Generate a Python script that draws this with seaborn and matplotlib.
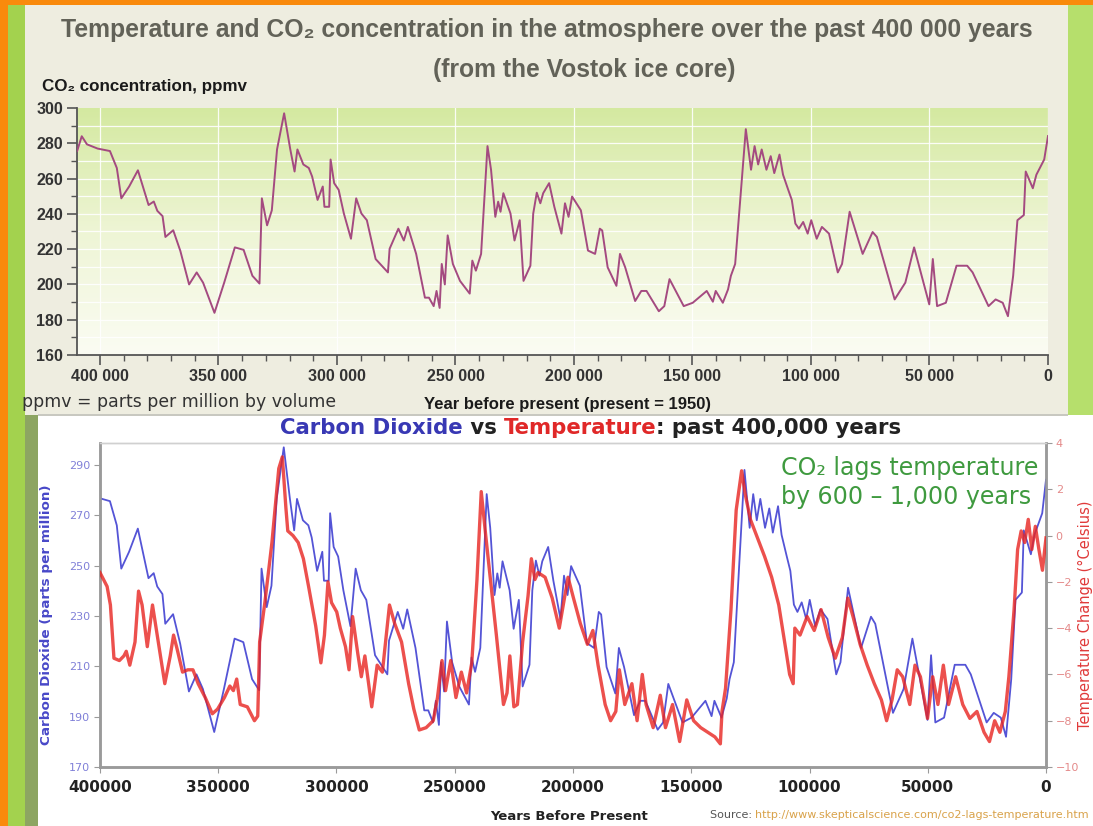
import numpy as np
import pandas as pd
import matplotlib
matplotlib.use("Agg")
import matplotlib.pyplot as plt
import seaborn as sns
from matplotlib.patches import Rectangle
from matplotlib.colors import LinearSegmentedColormap
from matplotlib.ticker import MultipleLocator, FixedLocator

# ---------------- data ----------------
co2_years = [409650, 407700, 405500, 401000, 395800, 392900, 391000, 387700, 384000, 379500,
             377300, 375800, 373600, 372400, 369100, 366100, 362400, 359200, 356500, 351700,
             347600, 343100, 339400, 335700, 332700, 331700, 329500, 327500, 325300, 322300,
             319700, 317900, 316700, 314200, 311900, 310500, 308200, 306000, 305300, 303300,
             302700, 301200, 299300, 297100, 294100, 291900, 289700, 287400, 283700, 278500,
             277800, 274100, 271800, 270100, 266600, 262900, 261200, 259200, 258000, 256700,
             255800, 254500, 253300, 251100, 248100, 244000, 242900, 241400, 239200, 236500,
             235000, 233200, 232000, 231000, 229800, 226800, 225100, 222900, 221300, 218400,
             217200, 215700, 214200, 213000, 210500, 208300, 205300, 203800, 202300, 200800,
             197100, 194100, 191100, 189100, 188100, 185800, 182100, 180600, 178400, 174200,
             171600, 169400, 164200, 161900, 159700, 153700, 149900, 144000, 141400, 140200,
             137200, 135000, 133800, 132000, 127500, 125300, 123800, 122300, 120800, 118800,
             117000, 115500, 113300, 111800, 109600, 108100, 106600, 105100, 103300, 101400,
             99900, 97600, 95400, 92400, 88700, 86900, 83700, 78200, 74000, 72200,
             64700, 60200, 56500, 50100, 48600, 46800, 43100, 38600, 34100, 31800,
             25100, 22100, 19100, 16900, 14700, 12900, 10200, 9400, 6400, 4900,
             1600, 0]
co2_ppmv = [275.6, 284.0, 279.4, 277.0, 275.6, 266.0, 248.8, 255.5, 264.7, 245.0,
            247.0, 241.7, 238.7, 226.9, 230.7, 219.0, 200.0, 206.8, 201.0, 183.9,
            201.0, 221.0, 219.6, 204.9, 200.5, 248.8, 233.5, 242.0, 276.5, 297.0,
            276.5, 264.0, 276.5, 268.0, 266.0, 261.2, 247.9, 255.5, 244.0, 244.0,
            270.8, 257.4, 253.6, 240.2, 225.9, 248.8, 240.2, 236.4, 214.4, 206.8,
            220.2, 231.6, 224.9, 232.6, 217.3, 192.5, 192.5, 187.7, 196.3, 186.7,
            211.6, 200.0, 227.8, 211.6, 202.0, 194.8, 213.5, 207.8, 217.3, 278.4,
            265.0, 238.3, 246.9, 241.2, 251.7, 240.2, 224.9, 236.4, 202.0, 210.6,
            240.2, 252.0, 246.0, 251.7, 257.4, 244.0, 228.8, 246.0, 238.3, 249.8,
            242.0, 219.2, 217.3, 231.6, 230.6, 209.7, 199.2, 217.3, 209.7, 190.6,
            196.3, 196.3, 184.8, 187.7, 203.0, 187.7, 189.6, 196.3, 190.2, 196.3,
            189.6, 197.2, 204.9, 211.6, 288.0, 265.0, 278.4, 268.0, 276.5, 265.0,
            272.7, 263.1, 273.6, 262.2, 253.6, 247.9, 234.5, 231.6, 235.4, 228.8,
            236.4, 225.9, 232.6, 228.8, 206.8, 211.6, 241.2, 217.3, 229.7, 226.9,
            191.5, 201.0, 221.0, 188.7, 214.4, 187.7, 189.6, 210.6, 210.6, 206.8,
            187.7, 191.5, 189.6, 182.0, 204.9, 236.4, 239.3, 264.0, 254.5, 262.2,
            270.8, 284.1]

temp_years = [400000, 397000, 395600, 394100, 391800, 389900, 388900, 387400, 385200, 383700,
              382200, 380000, 377800, 375500, 372600, 370300, 368900, 367400, 365100, 362900,
              360700, 358500, 355500, 352500, 350300, 347400, 345100, 343600, 342200, 340700,
              337700, 334700, 333300, 332500, 330300, 327300, 324400, 322900, 321400, 320600,
              318400, 316200, 314000, 311800, 308800, 306600, 305100, 303600, 302100, 299900,
              298400, 296200, 294700, 293200, 291000, 289500, 288000, 285100, 282800, 280600,
              277600, 275400, 272500, 269500, 267300, 265000, 262100, 259100, 257300, 255400,
              253900, 251700, 249500, 247200, 245000, 242800, 240600, 238800, 236900, 234600,
              232400, 230900, 229400, 227900, 226700, 225000, 223500, 221300, 219000, 217600,
              216100, 214800, 211800, 208800, 205800, 202100, 199800, 196900, 193900, 191600,
              189400, 186400, 184100, 181900, 180400, 178100, 175100, 172900, 170700, 169100,
              166100, 163100, 160900, 157900, 154900, 151900, 149000, 146000, 143000, 140000,
              137700, 137000, 135500, 133200, 131000, 128700, 127200, 125000, 122000, 119000,
              116000, 113000, 109900, 108400, 106900, 106200, 104000, 101000, 98000, 95100,
              92100, 89100, 86100, 83800, 81600, 78600, 75600, 72600, 69600, 67400,
              65100, 62900, 60600, 57600, 55400, 53100, 50100, 47900, 45700, 43400,
              41200, 38200, 35200, 32200, 29200, 26200, 23900, 21700, 19500, 17200,
              15700, 13500, 12000, 10500, 9000, 7500, 6000, 4500, 3000, 1500, 0]
temp_change = [-1.6, -2.2, -3.0, -5.3, -5.4, -5.2, -5.0, -5.6, -4.6, -2.4,
               -3.0, -4.8, -3.0, -4.5, -6.4, -5.2, -4.3, -4.9, -5.9, -5.8,
               -5.8, -6.4, -7.0, -7.7, -7.5, -7.0, -6.5, -6.7, -6.2, -7.3,
               -7.4, -8.0, -7.8, -4.6, -2.9, -0.3, 2.9, 3.4, 1.2, 0.2,
               0.0, -0.3, -1.0, -2.2, -3.9, -5.5, -4.3, -2.0, -2.9, -3.3,
               -4.0, -4.8, -5.8, -3.5, -5.1, -6.1, -5.2, -7.4, -5.6, -5.9,
               -3.0, -3.8, -4.6, -6.4, -7.5, -8.4, -8.3, -8.0, -7.0, -5.4,
               -6.7, -5.4, -7.0, -5.9, -6.8, -5.5, -1.9, 1.9, 0.0, -2.2,
               -4.3, -5.8, -7.3, -6.8, -5.2, -7.4, -7.3, -4.6, -2.6, -1.0,
               -1.9, -1.6, -1.8, -2.7, -4.0, -1.8, -2.7, -3.8, -4.7, -4.1,
               -5.6, -7.3, -8.0, -7.6, -5.8, -7.3, -6.4, -8.0, -6.0, -7.3,
               -8.3, -6.9, -8.3, -7.3, -8.9, -7.1, -8.0, -8.3, -8.5, -8.7,
               -9.0, -7.6, -6.6, -3.2, 1.1, 2.8, 1.8, 0.7, -0.1, -0.9,
               -1.8, -3.0, -5.0, -6.0, -6.4, -4.0, -4.3, -3.5, -4.1, -3.2,
               -4.4, -5.3, -4.4, -2.7, -3.5, -4.7, -5.6, -6.4, -7.1, -8.0,
               -7.1, -5.8, -6.1, -7.3, -5.6, -6.1, -7.9, -6.1, -7.3, -5.6,
               -7.3, -6.1, -7.3, -7.9, -7.6, -8.5, -8.9, -8.0, -8.5, -7.6,
               -6.1, -3.2, -0.6, 0.2, -0.3, 0.7, -0.6, 0.4, -0.6, -1.5, -0.1]

top_xticks = [400000, 350000, 300000, 250000, 200000, 150000, 100000, 50000, 0]
top_xticklabels = ["400 000", "350 000", "300 000", "250 000", "200 000",
                   "150 000", "100 000", "50 000", "0"]
top_yticks = [160, 180, 200, 220, 240, 260, 280, 300]
bot_xticks = [400000, 350000, 300000, 250000, 200000, 150000, 100000, 50000, 0]
bot_xticklabels = ["400000", "350000", "300000", "250000", "200000",
                   "150000", "100000", "50000", "0"]
bot_co2_ticks = [170, 190, 210, 230, 250, 270, 290]
bot_temp_ticks = [-10, -8, -6, -4, -2, 0, 2, 4]

co2_df = pd.DataFrame({"year": co2_years, "co2": co2_ppmv})
temp_df = pd.DataFrame({"year": temp_years, "temp": temp_change})

# ---------------- figure & background ----------------
W, H = 1093, 826
fig = plt.figure(figsize=(W / 100, H / 100), dpi=100, facecolor="#f98a0c")
renderer = fig.canvas.get_renderer()

NARROW = ["Liberation Sans", "DejaVu Sans"]
WIDE = ["DejaVu Sans"]


def rect(x0, y0, x1, y1, color, z=-5):
    fig.add_artist(Rectangle((x0 / W, 1 - y1 / H), (x1 - x0) / W, (y1 - y0) / H,
                             transform=fig.transFigure, facecolor=color,
                             edgecolor="none", zorder=z))


def fx(x):
    return x / W


def fy(y):
    return 1 - y / H


def fit(t, target_px):
    w = t.get_window_extent(renderer=renderer).width
    t.set_fontsize(t.get_fontsize() * target_px / w)
    return t


rect(8, 5, 25, H, "#a3d24e")
rect(1066, 5, W, 416, "#b6df6c")
rect(25, 5, 1068, 415, "#eeede0")
rect(25, 415, 38, H, "#8da562")
rect(38, 415, W, H, "#ffffff")
rect(38, 414, 1068, 415.5, "#c8c8c0", z=-4)

# ---------------- top chart ----------------
ax1 = fig.add_axes([fx(77), fy(355), (1048 - 77) / W, (355 - 108) / H])
ax1.set_facecolor("none")
XL = 409700
cmap = LinearSegmentedColormap.from_list("g", ["#fbfcf3", "#eef5d5", "#d4e9a0"])
grad = np.linspace(0, 1, 256).reshape(-1, 1)
ax1.imshow(grad, extent=[XL, 0, 160, 300], aspect="auto", cmap=cmap,
           origin="lower", zorder=0)
for yv in range(170, 300, 10):
    ax1.axhline(yv, color="white", lw=0.9, zorder=1, alpha=0.9)
for xv in top_xticks:
    ax1.axvline(xv, color="white", lw=0.9, zorder=1, alpha=0.9)

sns.lineplot(data=co2_df, x="year", y="co2", ax=ax1, color="#a44a80", lw=1.4,
             estimator=None, zorder=3)
ax1.set_xlim(XL, 0)
ax1.set_ylim(160, 300)
ax1.set_xlabel("")
ax1.set_ylabel("")
for s in ["top", "right"]:
    ax1.spines[s].set_visible(False)
for s in ["left", "bottom"]:
    ax1.spines[s].set_color("#555555")
    ax1.spines[s].set_linewidth(1.3)
ax1.xaxis.set_major_locator(FixedLocator(top_xticks))
ax1.set_xticklabels(top_xticklabels)
ax1.xaxis.set_minor_locator(MultipleLocator(10000))
ax1.yaxis.set_major_locator(FixedLocator(top_yticks))
ax1.yaxis.set_minor_locator(MultipleLocator(10))
ax1.tick_params(which="major", length=7, width=1.2, color="#555555",
                labelsize=11.5, labelcolor="#333333", pad=3)
ax1.tick_params(which="minor", length=4, width=1.0, color="#555555")
for lab in ax1.get_xticklabels() + ax1.get_yticklabels():
    lab.set_family(NARROW)
    lab.set_fontweight("bold")

t = fig.text(fx(547), fy(30), "Temperature and CO\u2082 concentration in the atmosphere over the past 400 000 years",
             ha="center", va="center", fontsize=16, fontweight="bold", color="#626258", family=NARROW)
fit(t, 970)
t = fig.text(fx(584), fy(70), "(from the Vostok ice core)",
             ha="center", va="center", fontsize=16, fontweight="bold", color="#626258", family=NARROW)
fit(t, 302)
t = fig.text(fx(42), fy(87), "CO\u2082 concentration, ppmv", ha="left", va="center",
             fontsize=11, fontweight="bold", color="#1a1a1a", family=NARROW)
fit(t, 206)
t = fig.text(fx(22), fy(402), "ppmv = parts per million by volume", ha="left", va="center",
             fontsize=12, color="#333333", family=WIDE)
fit(t, 311)
t = fig.text(fx(568), fy(404), "Year before present (present = 1950)", ha="center", va="center",
             fontsize=12, fontweight="bold", color="#1a1a1a", family=NARROW)
fit(t, 287)

# ---------------- bottom chart ----------------
ax2 = fig.add_axes([fx(100), fy(767), (1046 - 100) / W, (767 - 443) / H])
ax2.set_facecolor("white")
sns.lineplot(data=co2_df, x="year", y="co2", ax=ax2, color="#5454d6", lw=1.3,
             estimator=None, zorder=3)
ax2.set_xlim(400000, 0)
ax2.set_ylim(170, 298.7)
ax2.set_xlabel("")
ax2.set_ylabel("")
ax3 = ax2.twinx()
sns.lineplot(data=temp_df, x="year", y="temp", ax=ax3, color="#e82420", lw=2.4,
             alpha=0.8, estimator=None, zorder=3)
ax3.set_ylim(-10, 4)
ax3.set_xlim(400000, 0)
ax3.set_ylabel("")
ax3.set_xlabel("")

for a in (ax2, ax3):
    for s in ["left", "bottom", "right"]:
        a.spines[s].set_color("#9a9a9a")
        a.spines[s].set_linewidth(1.8)
    a.spines["top"].set_color("#d0d0d0")
    a.spines["top"].set_linewidth(1.0)

ax2.xaxis.set_major_locator(FixedLocator(bot_xticks))
ax2.set_xticklabels(bot_xticklabels)
ax2.yaxis.set_major_locator(FixedLocator(bot_co2_ticks))
ax2.tick_params(axis="x", length=4, color="#9a9a9a", labelsize=11,
                labelcolor="#222222", pad=5)
ax2.tick_params(axis="y", length=4, color="#9a9a9a", labelsize=8,
                labelcolor="#8080d8", pad=3)
for lab in ax2.get_xticklabels():
    lab.set_fontweight("bold")
ax3.yaxis.set_major_locator(FixedLocator(bot_temp_ticks))
ax3.tick_params(axis="y", length=4, color="#9a9a9a", labelsize=8,
                labelcolor="#e48a8a", pad=3)

t = fig.text(fx(47), fy(615), "Carbon Dioxide (parts per million)", rotation=90,
             ha="center", va="center", fontsize=9.7, fontweight="bold", color="#4848c8")
fig.text(fx(1085), fy(615), "Temperature Change (\u00b0Celsius)", rotation=90,
         ha="center", va="center", fontsize=10.5, color="#e03a3a")
fig.text(fx(569), fy(817), "Years Before Present", ha="center", va="center",
         fontsize=9.5, fontweight="bold", color="#222222")

# multi-coloured title
pieces = [("Carbon Dioxide", "#3838b4"), (" vs ", "#222222"),
          ("Temperature", "#e02828"), (": past 400,000 years", "#222222")]
size = 13.5
tmp = fig.text(0, 0, "".join(p[0] for p in pieces), fontsize=size, fontweight="bold")
size = size * 622 / tmp.get_window_extent(renderer=renderer).width
tmp.remove()
x = fx(280)
for txt, col in pieces:
    t = fig.text(x, fy(428), txt, ha="left", va="center", fontsize=size,
                 fontweight="bold", color=col)
    bb = t.get_window_extent(renderer=renderer)
    x += bb.width / W

t = fig.text(fx(781), fy(468), "CO\u2082 lags temperature", ha="left", va="center",
             fontsize=16.5, color="#3f9a3f")
fit(t, 257)
fig.text(fx(781), fy(497), "by 600 \u2013 1,000 years", ha="left", va="center",
         fontsize=t.get_fontsize(), color="#3f9a3f")

t = fig.text(fx(710), fy(815), "Source: ", ha="left", va="center", fontsize=8,
             color="#555555")
bb = t.get_window_extent(renderer=renderer)
t2 = fig.text(fx(710) + bb.width / W, fy(815),
              "http://www.skepticalscience.com/co2-lags-temperature.htm",
              ha="left", va="center", fontsize=8, color="#d9a24a")
fit(t2, 378 - bb.width)

fig.savefig("out.png", dpi=100, facecolor=fig.get_facecolor())
